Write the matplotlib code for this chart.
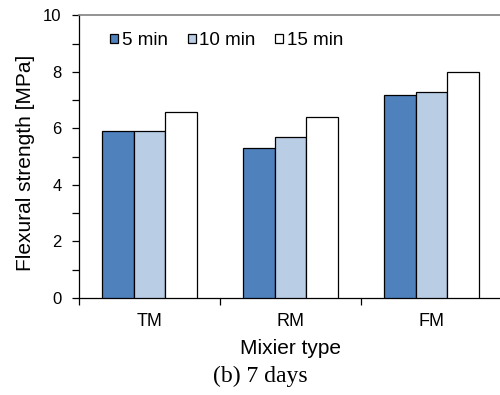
import matplotlib
matplotlib.use("Agg")
import matplotlib.pyplot as plt
import numpy as np

categories = ["TM", "RM", "FM"]
series_names = ["5 min", "10 min", "15 min"]
v5 = [5.9, 5.3, 7.2]
v10 = [5.9, 5.7, 7.3]
v15 = [6.6, 6.4, 8.0]
colors = ["#4F81BD", "#B9CDE5", "#FFFFFF"]

plt.rcParams['font.family'] = ['Liberation Sans', 'DejaVu Sans']

fig = plt.figure(figsize=(5.0, 3.95), dpi=100)
ax = fig.add_axes([0.158, 0.2456, 0.846, 0.7152])

x = np.arange(len(categories))
w = 0.224
for i, (vals, name, c) in enumerate(zip([v5, v10, v15], series_names, colors)):
    ax.bar(x + (i - 1) * w, vals, w, color=c, edgecolor="black", linewidth=0.9, label=name, zorder=3)

ax.set_xlim(-0.5, 2.5)
ax.set_ylim(0, 10)
ax.set_yticks([0, 2, 4, 6, 8, 10])
ax.set_yticks([1, 3, 5, 7, 9], minor=True)
ax.set_xticks([-0.5, 0.5, 1.5, 2.5])
ax.set_xticklabels([])
ax.set_xticks(x, minor=True)
ax.set_xticklabels(categories, minor=True)
ax.tick_params(axis='x', which='minor', length=0, pad=11, labelsize=13)
ax.tick_params(axis='x', which='major', length=5, direction='out', width=0.9)
ax.tick_params(axis='y', which='both', length=5, direction='out', width=0.9, labelsize=12, pad=7.5)

ax.spines['right'].set_visible(False)
ax.spines['top'].set_color('#808080')
ax.spines['top'].set_linewidth(1.2)
ax.spines['left'].set_linewidth(0.9)
ax.spines['bottom'].set_linewidth(0.9)

ax.set_ylabel("Flexural strength [MPa]", fontsize=15)
ax.yaxis.set_label_coords(-0.103, 0.48)
ax.set_xlabel("Mixier type", fontsize=15, labelpad=6.5)

leg = fig.legend(*ax.get_legend_handles_labels(), loc='center left',
                 bbox_to_anchor=(110 / 500, (395 - 40.7) / 395), ncol=3, frameon=False,
                 handlelength=0.43, handleheight=0.43, handletextpad=0.2, columnspacing=1.05,
                 fontsize=13.5, borderaxespad=0, borderpad=0)

fig.text(0.52, 0.048, "(b) 7 days", fontsize=17, ha='center', va='center',
         family=['Liberation Serif', 'DejaVu Serif'])

fig.savefig("out.png", dpi=100)
